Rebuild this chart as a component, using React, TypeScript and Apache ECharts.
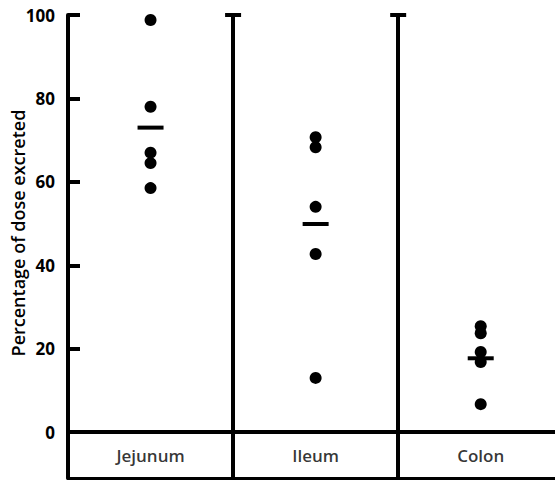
import React, { useEffect, useRef } from "react";
import * as echarts from "echarts";

const categories = ["Jejunum", "Ileum", "Colon"];
const jejunum = [98.8, 78, 67, 64.5, 58.5];
const ileum = [70.7, 68.3, 54, 42.7, 13];
const colon = [25.4, 23.7, 19.2, 16.8, 6.7];
const means = [73, 49.9, 17.7];
const yTicks = [20, 40, 60, 80, 100];
const yLabels = [0, 20, 40, 60, 80, 100];
const yTitle = "Percentage of dose excreted";

const FONT = "Open Sans";

export default function App() {
  const ref = useRef<HTMLDivElement>(null);
  useEffect(() => {
    if (!ref.current) return;
    const chart = echarts.init(ref.current, undefined, { renderer: "svg" });
    const groups = [jejunum, ileum, colon];
    const points: number[][] = [];
    groups.forEach((g, i) => g.forEach((v) => points.push([i + 0.5, v])));
    chart.setOption({
      animation: false,
      grid: { left: 68, right: 0, top: 15, bottom: 2, containLabel: false, outerBoundsMode: "none" },
      graphic: [
        {
          type: "text",
          x: 18,
          y: 233,
          rotation: Math.PI / 2,
          style: {
            text: yTitle,
            align: "center",
            verticalAlign: "middle",
            fontFamily: FONT,
            fontSize: 18,
            fontWeight: 600,
            fill: "#000",
          },
        },
      ],
      xAxis: {
        type: "value",
        min: 0,
        max: 2.95,
        axisLine: { show: true, onZero: false, lineStyle: { color: "#000", width: 3 } },
        axisTick: { show: false },
        axisLabel: { show: false },
        splitLine: { show: false },
      },
      yAxis: {
        type: "value",
        min: -11,
        max: 100,
        axisLine: { show: true, lineStyle: { color: "#000", width: 4 } },
        axisTick: {
          show: true,
          inside: true,
          length: 12,
          customValues: yTicks,
          lineStyle: { color: "#000", width: 4 },
        },
        axisLabel: {
          show: true,
          customValues: yLabels,
          margin: 13,
          fontFamily: FONT,
          fontSize: 17,
          fontWeight: "bold",
          color: "#000",
        },
        splitLine: { show: false },
      },
      series: [
        {
          type: "scatter",
          data: points,
          symbol: "circle",
          symbolSize: 12,
          itemStyle: { color: "#000", opacity: 1 },
          markLine: {
            silent: true,
            symbol: "none",
            label: { show: false },
            lineStyle: { color: "#000", width: 4, type: "solid", opacity: 1 },
            data: [
              [{ coord: [1, -11] }, { coord: [1, 100] }],
              [{ coord: [2, -11] }, { coord: [2, 100] }],
              [{ coord: [0, 0] }, { coord: [2.95, 0] }],
            ],
          },
        },
        {
          type: "scatter",
          data: means.map((m, i) => [i + 0.5, m]),
          symbol: "rect",
          symbolSize: [26, 4],
          itemStyle: { color: "#000", opacity: 1 },
        },
        {
          type: "scatter",
          data: [[1, 100], [2, 100]],
          symbol: "rect",
          symbolSize: [16, 4],
          itemStyle: { color: "#000", opacity: 1 },
        },
        {
          type: "scatter",
          data: categories.map((c, i) => [i + 0.5, -5.5, c]),
          symbolSize: 0,
          label: {
            show: true,
            position: "inside",
            formatter: (p: any) => p.data[2],
            fontFamily: FONT,
            fontSize: 17,
            fontWeight: 600,
            color: "#000",
          },
        },
      ],
    });
    return () => chart.dispose();
  }, []);
  return <div ref={ref} style={{ width: 555, height: 480, position: "absolute", left: 0, top: 0 }} />;
}
